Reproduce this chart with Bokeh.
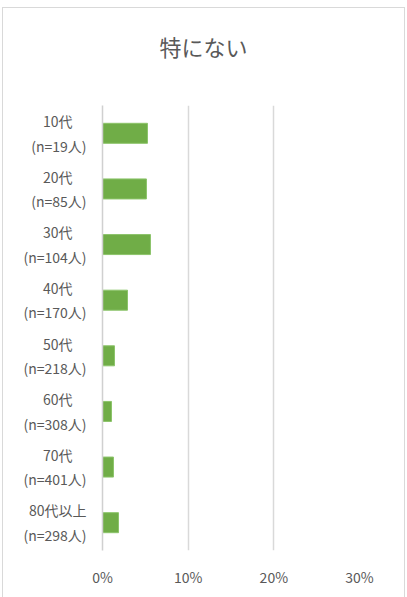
from bokeh.plotting import figure
from bokeh.models import FactorRange, Range1d, FixedTicker, NumeralTickFormatter, ColumnDataSource, Title
from bokeh.embed import file_html
from bokeh.resources import INLINE

# Age groups with respondent counts, and share answering "特にない"
age_groups = ["10代", "20代", "30代", "40代", "50代", "60代", "70代", "80代以上"]
sample_sizes = [19, 85, 104, 170, 218, 308, 401, 298]
shares = [0.0525, 0.0513, 0.056, 0.0292, 0.014, 0.0105, 0.0128, 0.0187]
x_ticks = [0.0, 0.1, 0.2, 0.3]

# two-line tick labels; axis lines are right-aligned, so the short first line
# gets a full-width space to sit roughly centred over the count line
labels = [
    (f"{g}\u3000" if len(g) <= 3 else g) + f"\n(n={n}人)"
    for g, n in zip(age_groups, sample_sizes)
]

JP_FONT = "Noto Sans CJK JP"
TEXT_COLOR = "#595959"

source = ColumnDataSource(dict(label=labels, share=shares))

p = figure(
    width=401, height=589,
    y_range=FactorRange(factors=list(reversed(labels)), range_padding=0),
    x_range=Range1d(0, 0.3),
    output_backend="svg", toolbar_location=None,
    min_border_left=99, min_border_right=45,
    min_border_top=97, min_border_bottom=47,
)
p.margin = (8, 0, 0, 3)
p.styles = {"box-shadow": "0 0 0 1px #d9d9d9"}

# blank panel between the frame and the title, to lift the title up
p.add_layout(Title(text=" ", text_font_size="1px", standoff=36), "above")

p.title.text = "特にない"
p.title.align = "left"
p.title.offset = 57
p.title.text_font = JP_FONT
p.title.text_font_size = "22px"
p.title.text_font_style = "normal"
p.title.text_color = TEXT_COLOR
p.title.standoff = 10

p.hbar(y="label", right="share", left=0, height=0.36, source=source,
       fill_color="#70AD47", line_color="#8cc46a", line_width=1)

p.outline_line_color = None
p.background_fill_color = "white"
p.border_fill_color = "white"

p.ygrid.grid_line_color = None
p.xgrid.grid_line_color = "#d9d9d9"
p.xgrid.grid_line_width = 1.5

p.xaxis.ticker = FixedTicker(ticks=x_ticks)
p.xaxis.formatter = NumeralTickFormatter(format="0%")
p.xaxis.axis_line_color = None
p.xaxis.major_tick_line_color = None
p.xaxis.minor_tick_line_color = None
p.xaxis.major_label_text_font = JP_FONT
p.xaxis.major_label_text_font_size = "14px"
p.xaxis.major_label_text_color = TEXT_COLOR
p.xaxis.major_label_standoff = 10

p.yaxis.axis_line_color = "#d0d0d0"
p.yaxis.axis_line_width = 1.5
p.yaxis.major_tick_line_color = None
p.yaxis.minor_tick_line_color = None
p.yaxis.major_label_text_font = JP_FONT
p.yaxis.major_label_text_font_size = "14px"
p.yaxis.major_label_text_color = TEXT_COLOR
p.yaxis.major_label_text_line_height = 1.23
p.yaxis.major_label_standoff = 10

open("out.html", "w").write(file_html(p, INLINE))
